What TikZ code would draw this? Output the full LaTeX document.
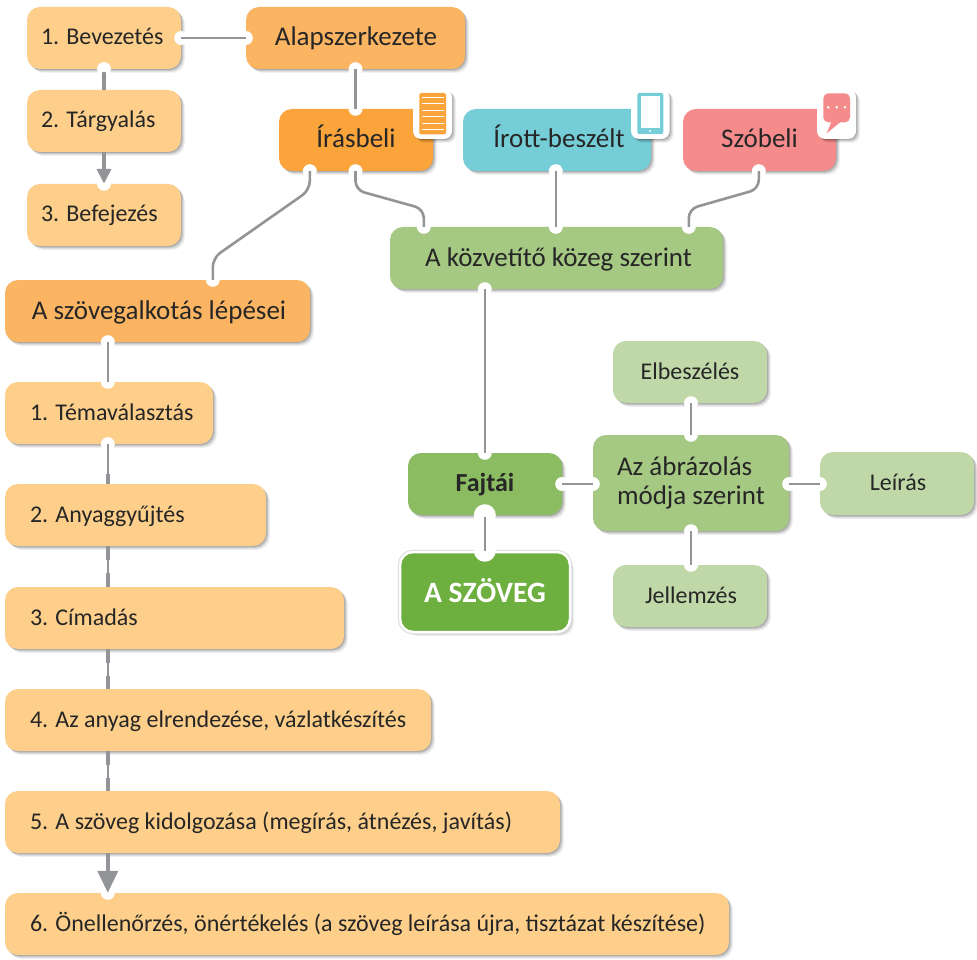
\documentclass[tikz,border=0pt]{standalone}
\usepackage{fontspec}
\setmainfont{Carlito}
\usetikzlibrary{arrows.meta,calc}
\definecolor{lightor}{HTML}{FDCF8A}
\definecolor{midor}{HTML}{FBB562}
\definecolor{deepor}{HTML}{FBA43C}
\definecolor{cyanb}{HTML}{74CDD7}
\definecolor{pinkb}{HTML}{F68B8B}
\definecolor{lgreen}{HTML}{C0D8A8}
\definecolor{mgreen}{HTML}{A5C882}
\definecolor{dgreen}{HTML}{8BBC62}
\definecolor{sgreen}{HTML}{6DB03F}
\definecolor{linec}{HTML}{929497}
\definecolor{txt}{HTML}{262626}
\tikzset{
  softshadow/.style={preaction={fill=black,fill opacity=.05,draw=none,transform canvas={xshift=4pt,yshift=-4pt}},
                     preaction={fill=black,fill opacity=.08,draw=none,transform canvas={xshift=3pt,yshift=-3pt}},
                     preaction={fill=black,fill opacity=.10,draw=none,transform canvas={xshift=2pt,yshift=-2pt}},
                     preaction={fill=black,fill opacity=.14,draw=none,transform canvas={xshift=1pt,yshift=-1pt}}},
  boxn/.style={rounded corners=13pt,text=txt,font=\fontsize{24}{27}\selectfont,inner sep=0pt,softshadow,align=center,text height=19pt,text depth=5pt},
  big/.style={boxn,font=\fontsize{27}{30}\selectfont,text height=21pt},
  conn/.style={draw=linec,line width=2.6pt,rounded corners=9pt},
  heavy/.style={draw=linec,line width=4pt},
  heavyends/.style={heavy,dash pattern=on 14pt off 13pt on 14pt},
  arrowsm/.style={heavy,-{Triangle[width=14pt,length=15pt]}},
  arrowbg/.style={heavy,-{Triangle[width=20pt,length=22pt]}},
  notch/.style={circle,fill=white,draw=none,minimum size=14pt,inner sep=0pt},
  bignotch/.style={circle,fill=white,draw=none,minimum size=22pt,inner sep=0pt},
  iconbg/.style={fill=white,rounded corners=8pt,softshadow},
}
% centred label: [options]{style}{x1}{y1}{x2}{y2}{name} {text};
\newcommand{\bx}[7][]{%
  \node[#2,#1,minimum width=\the\dimexpr#5pt-#3pt\relax,minimum height=\the\dimexpr#6pt-#4pt\relax] (#7)
    at ({(#3+#5)/2},{-(#4+#6)/2}) }
% left-aligned label: text width follows from the inset #3
\newcommand{\lbx}[8][]{%
  \node[#2,#1,minimum width=\the\dimexpr#6pt-#4pt\relax,minimum height=\the\dimexpr#7pt-#5pt\relax,
        text width=\the\dimexpr#6pt-#4pt-#3pt-#3pt\relax,align=flush left] (#8)
    at ({(#4+#6)/2},{-(#5+#7)/2}) }
\begin{document}
\begin{tikzpicture}[x=1pt,y=1pt]
\useasboundingbox (0,0) rectangle (977,-960);
\fill[white] (0,0) rectangle (977,-960);
% boxes
\lbx[fill=lightor]{boxn}{14}{27}{7}{181}{69}{bev} {\mbox{1. Bevezetés}};
\lbx[fill=lightor]{boxn}{14}{27}{90}{181}{152}{targy} {\mbox{2. Tárgyalás}};
\lbx[fill=lightor]{boxn}{14}{27}{184}{181}{246}{bef} {\mbox{3. Befejezés}};
\bx[fill=midor]{big}{246}{7}{465}{69}{alap} {\hspace*{1pt}Alapszerkezete};
\bx[fill=deepor]{big}{279}{109}{433}{171}{iras} {Írásbeli};
\bx[fill=cyanb]{big}{463}{109}{651}{171}{irott} {\hspace*{4pt}Írott-beszélt};
\bx[fill=pinkb]{big}{683}{109}{836}{171}{szob} {Szóbeli};
\bx[fill=mgreen]{big}{390}{227}{723}{289}{koz} {\hspace*{4pt}A közvetítő közeg szerint};
\bx[fill=midor]{big}{5}{280}{310}{342}{lep} {\hspace*{3pt}A szövegalkotás lépései};
\lbx[fill=lightor]{boxn}{25}{5}{382}{213}{444}{s1} {\mbox{1. Témaválasztás}};
\lbx[fill=lightor]{boxn}{25}{5}{484}{266}{546}{s2} {\mbox{2. Anyaggyűjtés}};
\lbx[fill=lightor]{boxn}{25}{5}{587}{344}{649}{s3} {\mbox{3. Címadás}};
\lbx[fill=lightor]{boxn}{25}{5}{689}{431}{751}{s4} {\mbox{4. Az anyag elrendezése, vázlatkészítés}};
\lbx[fill=lightor]{boxn}{25}{5}{791}{560}{853}{s5} {\mbox{5. A szöveg kidolgozása (megírás, átnézés, javítás)}};
\lbx[fill=lightor]{boxn}{25}{5}{893}{729}{955}{s6} {\mbox{6. Önellenőrzés, önértékelés (a szöveg leírása újra, tisztázat készítése)}};
\bx[fill=dgreen,font=\bfseries\fontsize{26}{30}\selectfont]{boxn}{408}{453}{562}{515}{faj} {Fajtái};
\lbx[fill=mgreen,font=\fontsize{27}{29}\selectfont,text height=,text depth=]{boxn}{24}{593}{435}{789}{531}{abr} {\mbox{Az ábrázolás}\\\mbox{módja szerint}};
\bx[fill=lgreen]{boxn}{613}{341}{767}{403}{elb} {Elbeszélés};
\bx[fill=lgreen]{boxn}{820}{452}{974}{515}{leir} {\hspace*{2pt}Leírás};
\bx[fill=lgreen]{boxn}{613}{565}{767}{627}{jell} {\hspace*{2pt}Jellemzés};
\bx[preaction={draw=black!14,line width=4.5pt},fill=sgreen,draw=white,line width=2.5pt,text=white,font=\bfseries\fontsize{29.5}{32}\selectfont,text height=26pt,text depth=5pt]{boxn}{400}{552}{570}{632}{szov} {A SZÖVEG};
% icons
\fill[iconbg] (413,-89) rectangle (452,-139);
\fill[deepor,rounded corners=2pt] (419.3,-93) rectangle (446,-134.5);
\foreach \y in {97,103.5,110,116.5,123,129.5}
  \draw[white,line width=.9pt] (421.7,-\y) -- (443.5,-\y);
\fill[iconbg] (631,-89) rectangle (669.5,-139);
\fill[cyanb,rounded corners=2pt] (637.3,-93) rectangle (663.3,-134);
\fill[white] (640.7,-96) rectangle (660,-128.3);
\fill[white] (650,-131) circle (1.2);
\fill[iconbg] (817,-89) rectangle (856,-139);
\fill[pinkb,rounded corners=5pt] (823.3,-93.3) rectangle (850,-122.3);
\fill[pinkb] (831.7,-121) -- (826.7,-133.3) -- (841.7,-121) -- cycle;
\foreach \x in {828.3,836.7,845} \fill[white] (\x,-107.3) circle (1.4);
% notches
\node[notch] (bevE) at ($(bev.east)+(0,0)$) {};
\node[notch] (alapW) at (bevE -| alap.west) {};
\node[notch] (bevS) at (bev.south) {};
\node[notch] (alapS) at (alap.south) {};
\node[notch] (irasN) at (alapS |- iras.north) {};
\node[notch] (irasSa) at ($(iras.south west)+(31,0)$) {};
\node[notch] (irasSb) at (alapS |- iras.south) {};
\node[notch] (lepN) at ($(lep.north west)+(208,0)$) {};
\node[notch] (kozNa) at ($(koz.north west)+(34,0)$) {};
\node[notch] (kozNb) at ($(koz.north west)+(166,0)$) {};
\node[notch] (kozNc) at ($(koz.north west)+(299,0)$) {};
\node[notch] (irottS) at (kozNb |- irott.south) {};
\node[notch] (szobS) at ($(szob.south west)+(76,0)$) {};
\node[notch] (befN) at (bevS |- bef.north) {};
\node[notch] (lepS) at ($(lep.south west)+(103,0)$) {};
\node[notch] (s1N) at (lepS |- s1.north) {};
\node[notch] (s1S) at (lepS |- s1.south) {};
\node[notch] (s6N) at (lepS |- s6.north) {};
\node[notch] (kozS) at ($(koz.south west)+(95,0)$) {};
\node[notch] (fajN) at (kozS |- faj.north) {};
\node[notch] (fajE) at (faj.east) {};
\node[notch] (abrW) at (fajE -| abr.west) {};
\node[notch] (abrE) at (fajE -| abr.east) {};
\node[notch] (abrN) at (abr.north) {};
\node[notch] (abrS) at (abr.south) {};
\node[notch] (elbS) at (abrN |- elb.south) {};
\node[notch] (jellN) at (abrN |- jell.north) {};
\node[notch] (leirW) at (fajE -| leir.west) {};
\node[bignotch] (fajS) at (kozS |- faj.south) {};
\node[bignotch] (szovN) at (kozS |- szov.north) {};
% bend points
\coordinate (b1) at (irasSa |- 0,-190);
\coordinate (b2) at (lepN |- 0,-258);
\coordinate (b3) at (irasSb |- 0,-190);
\coordinate (b4) at (kozNa |- 0,-209);
\coordinate (b5) at (szobS |- 0,-189);
\coordinate (b6) at (kozNc |- 0,-209);
% connectors
\draw[conn] (bevE.center) -- (alapW.center);
\draw[heavy] ($(bevS.center)+(0,-3)$) -- (bevS.center |- targy.north);
\draw[arrowsm] (bevS.center |- targy.south) -- (befN.center);
\draw[conn] (alapS.center) -- (irasN.center);
\draw[conn] (irasSa.center) -- (b1) -- (b2) -- (lepN.center);
\draw[conn] (irasSb.center) -- (b3) -- (b4) -- (kozNa.center);
\draw[conn] (irottS.center) -- (kozNb.center);
\draw[conn] (szobS.center) -- (b5) -- (b6) -- (kozNc.center);
\draw[conn] (kozS.center) -- (fajN.center);
\draw[conn] (fajE.center) -- (abrW.center);
\draw[conn] (abrE.center) -- (leirW.center);
\draw[conn] (elbS.center) -- (abrN.center);
\draw[conn] (abrS.center) -- (jellN.center);
\draw[conn] ($(fajS.center)+(0,-2)$) -- (szovN.center);
\draw[conn] (lepS.center) -- (s1N.center);
\draw[conn] (s1S.center) -- (s1S.center |- s2.north);
\draw[heavy] ($(s1S.center |- s2.north)+(0,10)$) -- (s1S.center |- s2.north);
\foreach \a/\b in {s2/s3,s3/s4,s4/s5}{
  \draw[conn] (s1S.center |- \a.south) -- (s1S.center |- \b.north);
  \draw[heavyends] (s1S.center |- \a.south) -- (s1S.center |- \b.north);
}
\draw[arrowbg] (s1S.center |- s5.south) -- (s6N.center);
\end{tikzpicture}
\end{document}
